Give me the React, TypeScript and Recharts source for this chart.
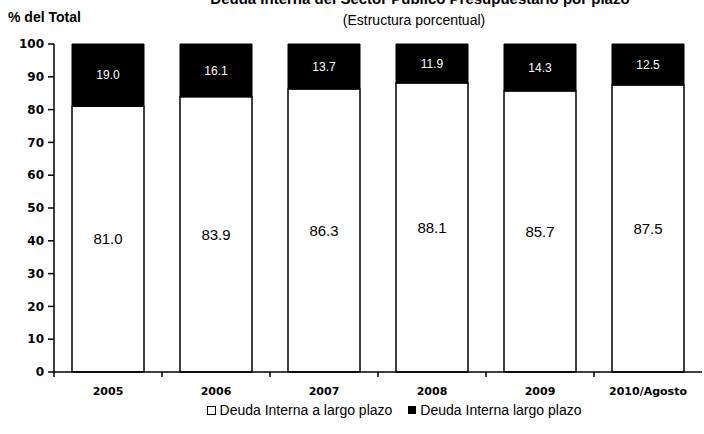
import React from 'react';
import { BarChart, Bar, XAxis, YAxis, Legend, LabelList } from 'recharts';

const categories = ['2005', '2006', '2007', '2008', '2009', '2010/Agosto'];
const largoPlazo = [81.0, 83.9, 86.3, 88.1, 85.7, 87.5];
const cortoPlazo = [19.0, 16.1, 13.7, 11.9, 14.3, 12.5];
const yTicks = [0, 10, 20, 30, 40, 50, 60, 70, 80, 90, 100];
const seriesNames = ['Deuda Interna a largo plazo', 'Deuda Interna largo plazo'];

const data = categories.map((c, i) => ({ name: c, largo: largoPlazo[i], corto: cortoPlazo[i] }));

const W = 704;
const H = 434;
const LEFT = 54;
const RIGHT = 2;
const BAND = (W - LEFT - RIGHT) / categories.length;

const XTick = (props: any) => {
  const { x, y, payload } = props;
  return (
    <g>
      <line x1={x - BAND / 2} y1={y - 8} x2={x - BAND / 2} y2={y - 3} stroke="#000" strokeWidth={1.5} />
      <text x={x} y={y + 15} textAnchor="middle" fontFamily="DejaVu Sans" fontWeight="bold" fontSize={11} fill="#000">
        {payload.value}
      </text>
    </g>
  );
};

const LegendContent = () => (
  <div style={{ height: 32, display: 'flex', justifyContent: 'center', alignItems: 'flex-start', paddingLeft: 86, fontFamily: 'Liberation Sans, Arial, sans-serif', fontSize: 14, color: '#000' }}>
    <span style={{ display: 'flex', alignItems: 'center', marginRight: 16 }}>
      <span style={{ width: 7, height: 7, border: '1px solid #000', background: '#fff', marginRight: 4, display: 'inline-block' }} />
      {seriesNames[0]}
    </span>
    <span style={{ display: 'flex', alignItems: 'center' }}>
      <span style={{ width: 8, height: 8, background: '#000', marginRight: 4, display: 'inline-block' }} />
      {seriesNames[1]}
    </span>
  </div>
);

export default function App() {
  return (
    <div style={{ position: 'absolute', left: 0, top: 0, width: W, height: H, background: '#fff', overflow: 'hidden' }}>
      <div style={{ position: 'absolute', left: 0, width: 840, top: -10, textAlign: 'center', fontFamily: 'Liberation Sans, Arial, sans-serif', fontWeight: 'bold', fontSize: 15, color: '#000', whiteSpace: 'nowrap' }}>
        Deuda Interna del Sector Público Presupuestario por plazo
      </div>
      <div style={{ position: 'absolute', left: 0, width: 828, top: 12, textAlign: 'center', fontFamily: 'Liberation Sans, Arial, sans-serif', fontSize: 14, color: '#000', whiteSpace: 'nowrap' }}>
        (Estructura porcentual)
      </div>
      <div style={{ position: 'absolute', left: 8, top: 9, fontFamily: 'Liberation Sans, Arial, sans-serif', fontWeight: 'bold', fontSize: 14, color: '#000', whiteSpace: 'nowrap' }}>
        % del Total
      </div>
      <BarChart width={W} height={H} data={data} margin={{ top: 44, right: RIGHT, left: 0, bottom: 0 }} barSize={72}>
        <XAxis dataKey="name" height={30} tickLine={false} axisLine={{ stroke: '#000', strokeWidth: 1.5 }} tick={<XTick />} interval={0} />
        <YAxis
          width={LEFT}
          domain={[0, 100]}
          ticks={yTicks}
          interval={0}
          tickSize={6}
          tickMargin={4}
          tickLine={{ stroke: '#000', strokeWidth: 1.5 }}
          axisLine={{ stroke: '#000', strokeWidth: 1.5 }}
          tick={{ fontFamily: 'DejaVu Sans', fontWeight: 'bold', fontSize: 12, fill: '#000' }}
        />
        <Legend verticalAlign="bottom" content={<LegendContent />} />
        <Bar dataKey="largo" stackId="a" fill="#fff" stroke="#000" strokeWidth={1.5} isAnimationActive={false} name={seriesNames[0]}>
          <LabelList dataKey="largo" position="center" formatter={(v: any) => Number(v).toFixed(1)} style={{ fontFamily: 'Liberation Sans, Arial', fontSize: 15, fill: '#000' }} />
        </Bar>
        <Bar dataKey="corto" stackId="a" fill="#000" stroke="#000" strokeWidth={1} isAnimationActive={false} name={seriesNames[1]}>
          <LabelList dataKey="corto" position="center" formatter={(v: any) => Number(v).toFixed(1)} style={{ fontFamily: 'Liberation Sans, Arial', fontSize: 12, fill: '#fff' }} />
        </Bar>
      </BarChart>
    </div>
  );
}
